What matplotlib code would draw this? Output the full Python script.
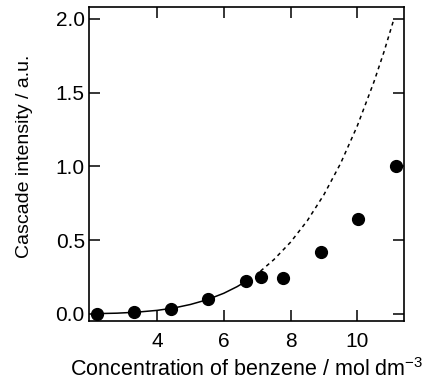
import numpy as np
import matplotlib.pyplot as plt

plt.rcParams['font.family'] = ['Liberation Sans', 'DejaVu Sans']
plt.rcParams['mathtext.default'] = 'regular'

# measured points
conc = [2.2, 3.31, 4.42, 5.54, 6.66, 7.11, 7.78, 8.9, 10.03, 11.15]
intensity = [0.0, 0.01, 0.036, 0.10, 0.22, 0.25, 0.245, 0.42, 0.64, 1.0]

# fitted curve (solid part)
fit_x = [2.2, 2.8, 3.4, 4.0, 4.5, 5.0, 5.5, 6.0, 6.4, 6.7]
fit_y = [0.002, 0.005, 0.012, 0.024, 0.040, 0.064, 0.096, 0.140, 0.185, 0.226]

# extrapolated curve (dashed part)
ext_x = [7.1, 7.5, 8.0, 8.5, 9.0, 9.5, 10.0, 10.5, 10.8, 11.1]
ext_y = [0.29, 0.368, 0.486, 0.631, 0.808, 1.02, 1.274, 1.573, 1.776, 2.0]

fig = plt.figure(figsize=(4.3, 3.81), dpi=100)
ax = fig.add_axes([0.207, 0.1575, 0.7325, 0.824])

ax.plot(fit_x, fit_y, color='black', lw=1.1)
ax.plot(ext_x, ext_y, color='black', lw=1.1, linestyle=(0, (2.5, 2.5)))
ax.plot(conc, intensity, 'o', color='black', markersize=8.5)

ax.set_xlim(1.96, 11.4)
ax.set_ylim(-0.048, 2.08)
ax.set_xticks([4, 6, 8, 10])
ax.set_yticks([0.0, 0.5, 1.0, 1.5, 2.0])
ax.set_yticklabels(['0.0', '0.5', '1.0', '1.5', '2.0'])

ax.tick_params(direction='in', top=True, right=True, length=8, width=1.1,
               labelsize=15)
ax.tick_params(axis='x', pad=8)
ax.tick_params(axis='y', pad=3)
for s in ax.spines.values():
    s.set_linewidth(1.2)

ax.set_xlabel('Concentration of benzene / mol dm$^{-3}$', fontsize=15.5, labelpad=5)
ax.set_ylabel('Cascade intensity / a.u.', fontsize=14)
ax.yaxis.set_label_coords(-0.178, 0.524)

plt.savefig('out.png', dpi=100)
